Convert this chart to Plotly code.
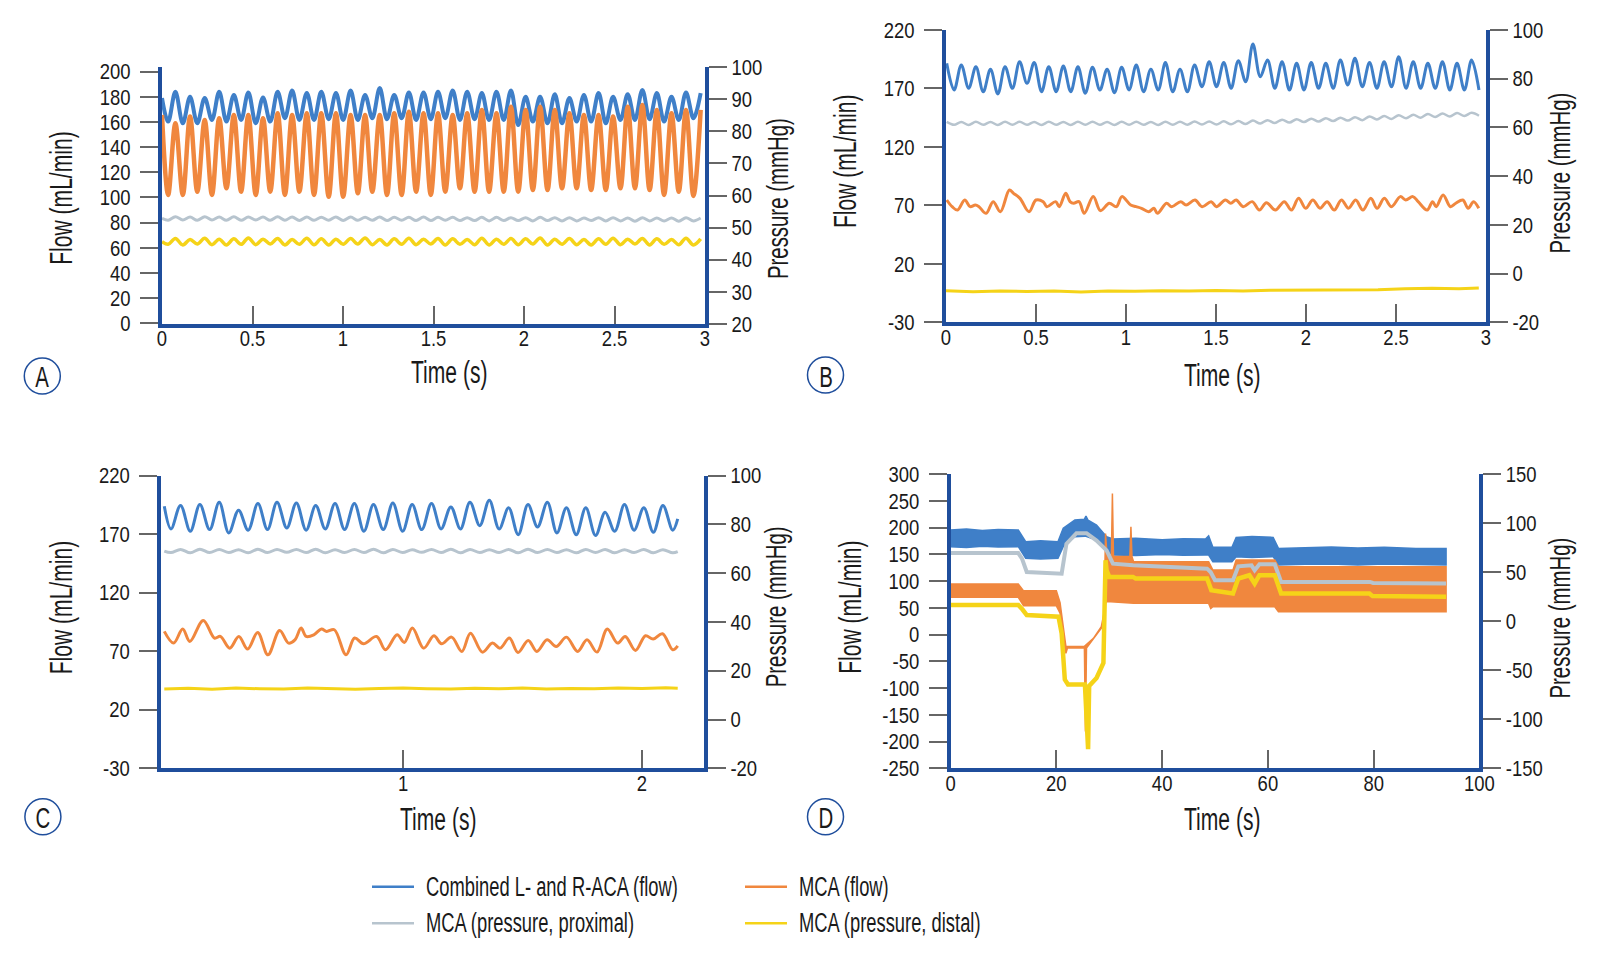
import plotly.graph_objects as go

W, H = 1598, 954
FONT = "Liberation Sans, Arial, Helvetica, sans-serif"
AX = "#1f4e9c"
BLUE, ORANGE, GRAY, YELLOW = "#3f7fc8", "#f0873e", "#b7c4ce", "#f5d318"

# ---------------- Panel A (flow mL/min, pressure mmHg, time s) ----------------
A_t = [0.0, 0.034, 0.074, 0.115, 0.155, 0.195, 0.236, 0.276, 0.316, 0.356, 0.397,
       0.437, 0.477, 0.518, 0.558, 0.598, 0.639, 0.679, 0.719, 0.759, 0.800,
       0.840, 0.880, 0.921, 0.961, 1.001, 1.042, 1.082, 1.122, 1.162, 1.203,
       1.243, 1.283, 1.324, 1.364, 1.404, 1.445, 1.485, 1.525, 1.565, 1.606,
       1.646, 1.686, 1.727, 1.767, 1.807, 1.848, 1.888, 1.928, 1.968, 2.009,
       2.049, 2.089, 2.130, 2.170, 2.210, 2.251, 2.291, 2.331, 2.371, 2.412,
       2.452, 2.492, 2.533, 2.573, 2.613, 2.654, 2.694, 2.734, 2.774, 2.815,
       2.855, 2.895, 2.936, 2.976]
A_blue_start = 179.0
A_blue_troughs = [160.3, 159.0, 159.0, 161.6, 160.3, 161.6, 159.0, 160.3, 163.0, 161.6, 161.6, 162.2, 161.6,
                  161.6, 163.0, 162.2, 163.0, 161.6, 162.2, 163.0, 161.6, 162.2, 161.6, 161.6, 157.6, 160.3,
                  159.0, 159.0, 160.3, 160.3, 159.0, 161.6, 161.6, 162.2, 160.3, 161.6, 163.0]
A_blue_peaks = [184, 180, 179, 184, 181.5, 183.5, 179.5, 184, 185, 183, 184, 183, 185, 181.5, 187, 181.5,
                183.5, 183.5, 184, 185, 184, 183, 184, 185, 180, 180, 182, 179, 181.5, 183, 180, 182,
                185.5, 183, 180, 183.5, 183]
A_orange_start = 165.6
A_orange_troughs = [102.0, 102.0, 104.6, 102.0, 107.3, 104.6, 102.0, 104.6, 102.0, 104.6, 102.0, 100.6, 100.6,
                    103.3, 104.6, 102.0, 102.0, 104.6, 102.0, 104.6, 107.3, 104.6, 104.6, 104.6, 104.6, 105.9,
                    105.9, 107.3, 107.3, 105.9, 105.9, 107.3, 107.3, 105.9, 102.0, 104.6, 101.2]
A_orange_peaks = [159.0, 164.3, 161.6, 163.0, 165.6, 165.6, 163.0, 166.9, 165.6, 166.9, 166.9, 166.9, 165.6,
                  165.6, 165.6, 166.9, 168.2, 166.9, 166.9, 165.6, 166.9, 169.6, 166.9, 172.2, 169.6, 172.2,
                  169.6, 166.9, 165.6, 165.6, 164.3, 172.2, 173.5, 169.6, 166.9, 169.6, 169.6]
A_gray_start = 52.9
A_gray_troughs = [52.3, 52.4, 52.3, 52.4, 52.3, 52.3, 52.4, 52.3, 52.3, 52.2, 52.3, 52.3, 52.2, 52.3, 52.3,
                  52.2, 52.3, 52.2, 52.2, 52.3, 52.2, 52.2, 52.1, 52.2, 52.2, 52.1, 52.2, 52.1, 52.1, 52.2,
                  52.1, 52.1, 52.0, 52.1, 52.1, 52.0, 52.1]
A_gray_peaks = [53.4, 53.3, 53.4, 53.3, 53.4, 53.3, 53.3, 53.4, 53.3, 53.3, 53.2, 53.3, 53.3, 53.2, 53.3,
                53.2, 53.2, 53.3, 53.2, 53.2, 53.1, 53.2, 53.2, 53.1, 53.1, 53.2, 53.1, 53.1, 53.0, 53.1,
                53.1, 53.0, 53.1, 53.0, 53.0, 53.1, 53.0]
A_yellow_start = 45.6
A_yellow_troughs = [44.8, 44.6, 44.9, 44.7, 44.6, 44.8, 44.7, 44.9, 44.6, 44.8, 44.7, 44.6, 44.8, 44.9, 44.7,
                    44.6, 44.8, 44.7, 44.9, 44.6, 44.8, 44.7, 44.6, 44.8, 44.7, 44.9, 44.6, 44.8, 44.7, 44.6,
                    44.8, 44.7, 44.9, 44.6, 44.8, 44.7, 44.6]
A_yellow_peaks = [46.6, 46.3, 46.7, 46.4, 46.5, 46.8, 46.4, 46.6, 46.3, 46.7, 46.5, 46.4, 46.6, 46.8, 46.3,
                  46.5, 46.7, 46.4, 46.6, 46.5, 46.3, 46.7, 46.4, 46.6, 46.5, 46.8, 46.4, 46.6, 46.3, 46.5,
                  46.7, 46.4, 46.6, 46.5, 46.3, 46.7, 46.5]

# ---------------- Panel B ----------------
B_t = [0.004, 0.045, 0.085, 0.126, 0.166, 0.207, 0.247, 0.288, 0.328, 0.369,
       0.409, 0.450, 0.490, 0.531, 0.571, 0.612, 0.652, 0.693, 0.733, 0.774,
       0.814, 0.855, 0.895, 0.936, 0.976, 1.017, 1.057, 1.098, 1.138, 1.179,
       1.219, 1.260, 1.300, 1.341, 1.381, 1.422, 1.462, 1.503, 1.543, 1.584,
       1.624, 1.665, 1.705, 1.746, 1.786, 1.827, 1.867, 1.908, 1.948, 1.989,
       2.029, 2.070, 2.110, 2.151, 2.191, 2.232, 2.272, 2.313, 2.353, 2.394,
       2.434, 2.475, 2.515, 2.556, 2.596, 2.637, 2.677, 2.718, 2.758, 2.799,
       2.839, 2.880, 2.920, 2.961]
B_blue_peaks = [191.5, 190.1, 188.6, 186.4, 188.6, 192.9, 192.1, 188.6, 189.2, 188.6, 188.1, 186.4, 188.1,
                190.1, 186.4, 192.1, 186.4, 190.1, 192.9, 192.1, 193.7, 208.0, 194.3, 192.9, 191.5, 192.1,
                191.5, 194.3, 195.8, 192.1, 192.9, 197.2, 192.9, 191.5, 192.9, 191.5, 194.3]
B_blue_troughs = [168.7, 170.1, 167.2, 165.3, 170.1, 174.4, 167.2, 167.2, 167.2, 165.9, 168.7, 166.4, 168.7,
                  167.2, 168.7, 167.2, 167.2, 171.5, 171.5, 170.1, 175.8, 180.0, 170.1, 168.7, 168.7, 170.1,
                  170.1, 173.0, 171.5, 170.1, 171.5, 170.1, 170.1, 170.1, 168.7, 168.7, 168.7]
B_gray_peaks = [62.3, 62.2, 62.3, 62.2, 62.3, 62.3, 62.2, 62.3, 62.2, 62.3, 62.3, 62.2, 62.3, 62.3, 62.2,
                62.3, 62.3, 62.4, 62.4, 62.5, 62.6, 62.8, 63.0, 63.2, 63.4, 63.6, 63.8, 64.0, 64.2, 64.5,
                64.7, 65.0, 65.2, 65.5, 65.7, 65.9, 66.0]
B_gray_troughs = [61.1, 61.0, 61.1, 61.0, 61.1, 61.1, 61.0, 61.1, 61.0, 61.1, 61.1, 61.0, 61.1, 61.1, 61.0,
                  61.1, 61.1, 61.2, 61.2, 61.3, 61.4, 61.6, 61.8, 62.0, 62.2, 62.4, 62.6, 62.8, 63.0, 63.3,
                  63.5, 63.8, 64.0, 64.3, 64.5, 64.7, 64.8]
B_orange_t = [0.004, 0.034, 0.064, 0.104, 0.134, 0.163, 0.183, 0.223, 0.262, 0.302, 0.352, 0.375, 0.411,
              0.461, 0.500, 0.540, 0.560, 0.609, 0.629, 0.665, 0.689, 0.709, 0.739, 0.768, 0.818, 0.858,
              0.907, 0.947, 0.977, 1.026, 1.056, 1.086, 1.126, 1.155, 1.175, 1.225, 1.254, 1.304, 1.334,
              1.383, 1.423, 1.473, 1.502, 1.552, 1.582, 1.612, 1.651, 1.701, 1.741, 1.780, 1.830, 1.879,
              1.919, 1.959, 1.998, 2.038, 2.078, 2.117, 2.157, 2.197, 2.236, 2.276, 2.316, 2.360, 2.395,
              2.435, 2.475, 2.524, 2.554, 2.594, 2.623, 2.673, 2.703, 2.723, 2.762, 2.802, 2.832, 2.871,
              2.901, 2.931, 2.960]
B_orange = [74.6, 68.9, 66.0, 74.6, 68.9, 70.3, 68.9, 63.2, 73.2, 64.6, 83.2, 80.3, 76.0,
            64.6, 74.6, 73.2, 68.9, 73.2, 68.9, 80.3, 73.2, 71.8, 73.2, 63.2, 77.5, 65.5,
            71.8, 68.9, 77.5, 70.3, 68.9, 67.5, 64.6, 67.5, 63.2, 71.8, 68.9, 73.2, 70.3,
            74.6, 68.9, 73.2, 68.9, 74.6, 71.8, 74.6, 68.9, 73.2, 66.0, 72.3, 66.0, 73.2,
            66.0, 76.0, 67.5, 74.6, 67.5, 73.2, 66.0, 74.6, 67.5, 74.6, 66.0, 76.0, 67.5,
            76.0, 68.9, 77.5, 74.6, 77.5, 73.2, 66.0, 73.2, 68.9, 78.9, 68.9, 71.8, 74.6,
            67.5, 73.2, 67.5]
B_yellow_t = [0.0, 0.15, 0.3, 0.45, 0.6, 0.75, 0.9, 1.05, 1.2, 1.35, 1.5, 1.65, 1.8, 1.95, 2.1, 2.25,
              2.4, 2.55, 2.7, 2.85, 2.96]
B_yellow = [-7.0, -7.5, -7.1, -7.4, -7.2, -7.6, -7.1, -7.3, -7.0, -7.2, -6.9, -7.1, -6.8, -6.7, -6.9,
            -6.5, -6.6, -6.2, -6.0, -6.2, -5.9]

# ---------------- Panel C ----------------
C_t = [0.028, 0.068, 0.109, 0.149, 0.190, 0.230, 0.270, 0.311, 0.351, 0.392,
       0.432, 0.472, 0.513, 0.553, 0.594, 0.634, 0.674, 0.715, 0.755, 0.796,
       0.836, 0.876, 0.917, 0.957, 0.998, 1.038, 1.078, 1.119, 1.159, 1.200,
       1.240, 1.280, 1.321, 1.361, 1.402, 1.442, 1.482, 1.523, 1.563, 1.604,
       1.644, 1.684, 1.725, 1.765, 1.806, 1.846, 1.886, 1.927, 1.967, 2.008,
       2.048, 2.088, 2.129]
C_t_start, C_t_end = 0.0, 2.15
C_blue_start, C_blue_end = 193.8, 182.9
C_blue_troughs = [174.4, 172.4, 173.8, 171.0, 173.3, 173.8, 175.2, 173.3, 174.4, 173.8, 172.4, 173.8, 172.4,
                  173.8, 174.4, 174.4, 177.2, 174.4, 169.5, 176.1, 171.0, 169.5, 168.7, 172.4, 173.3, 171.5,
                  173.3]
C_blue_peaks = [194.4, 195.2, 197.2, 190.4, 196.1, 197.2, 196.6, 194.4, 196.1, 196.1, 195.2, 196.6, 195.2,
                196.1, 193.2, 197.2, 198.9, 192.4, 195.2, 197.2, 192.4, 192.4, 188.6, 195.2, 192.4, 194.4]
C_gray_start, C_gray_end = 69.0, 68.8
C_gray_troughs = [68.4, 68.3, 68.4, 68.4, 68.3, 68.4, 68.5, 68.4, 68.3, 68.4, 68.4, 68.3, 68.4, 68.5,
                  68.4, 68.3, 68.4, 68.4, 68.3, 68.4, 68.4, 68.3, 68.4, 68.3, 68.4, 68.3, 68.3]
C_gray_peaks = [69.7, 69.8, 69.7, 69.6, 69.8, 69.7, 69.7, 69.8, 69.6, 69.7, 69.8, 69.7, 69.6, 69.7,
                69.8, 69.7, 69.6, 69.7, 69.8, 69.7, 69.6, 69.7, 69.7, 69.6, 69.7, 69.6]
C_orange_t = [0.0, 0.039, 0.077, 0.107, 0.163, 0.210, 0.235, 0.274, 0.312, 0.349, 0.391, 0.434, 0.483,
              0.520, 0.547, 0.573, 0.594, 0.626, 0.658, 0.680, 0.712, 0.761, 0.797, 0.834, 0.889, 0.926,
              0.975, 1.005, 1.039, 1.086, 1.129, 1.161, 1.203, 1.246, 1.282, 1.332, 1.374, 1.406, 1.445,
              1.481, 1.524, 1.560, 1.603, 1.641, 1.684, 1.731, 1.770, 1.812, 1.855, 1.898, 1.930, 1.973,
              2.015, 2.047, 2.086, 2.129, 2.150]
C_orange = [86.9, 76.9, 88.9, 78.3, 96.3, 81.2, 82.6, 72.6, 82.6, 71.8, 86.0, 66.9, 87.7,
            76.9, 79.7, 89.7, 82.6, 84.0, 88.9, 86.9, 88.3, 66.9, 81.2, 76.3, 82.6, 71.2,
            84.0, 77.5, 89.7, 72.6, 83.2, 76.3, 82.0, 69.8, 85.4, 69.2, 76.9, 72.6, 81.2,
            68.9, 79.2, 69.8, 79.7, 74.0, 82.0, 69.8, 79.7, 69.2, 88.9, 76.9, 82.6, 70.6,
            83.2, 80.3, 84.9, 71.2, 74.6]
C_yellow_t = [0.0, 0.1, 0.2, 0.3, 0.4, 0.5, 0.6, 0.7, 0.8, 0.9, 1.0, 1.1, 1.2, 1.3, 1.4, 1.5, 1.6,
              1.7, 1.8, 1.9, 2.0, 2.1, 2.15]
C_yellow = [12.5, 12.8, 12.4, 12.9, 12.6, 12.5, 12.9, 12.6, 12.4, 12.7, 12.9, 12.6, 12.5, 12.8,
            12.6, 12.9, 12.5, 12.7, 12.6, 12.9, 12.7, 13.0, 12.8]

# ---------------- Panel D (bands: upper / lower envelopes) ----------------
D_blue_t = [0, 3, 6, 9, 12.8, 14.2, 17, 20.3, 21.3, 23.5, 25.3, 25.6, 26.0, 27.6, 29.5, 30.7, 35, 40, 44,
            48.2, 48.8, 49.6, 53.2, 54.0, 57, 61.0, 62.0, 67, 72.0, 77, 82, 88, 93.7]
D_blue_top = [195.7, 197.5, 195.0, 196.8, 195.7, 173.9, 175.5, 173.9, 198.9, 214.5, 216.0, 221.9, 214.0,
              205.1, 183.3, 178.9, 180.5, 177.5, 179.5, 178.9, 185.0, 163.3, 163.3, 182.0, 183.5, 182.0,
              161.4, 163.0, 164.0, 162.0, 163.5, 161.0, 161.4]
D_blue_bot = [164.6, 163.0, 165.5, 163.8, 164.6, 142.7, 141.5, 142.7, 164.6, 183.3, 184.0, 184.0, 183.0,
              177.0, 155.2, 149.0, 148.0, 150.0, 148.5, 149.0, 149.0, 136.5, 136.5, 145.9, 144.5, 145.9,
              130.3, 131.5, 132.0, 130.5, 132.0, 131.0, 130.3]
D_orange_top_t = [0, 12.8, 13.8, 20.0, 20.7, 21.3, 21.8, 25.3, 27.0, 28.5, 29.0, 29.3, 29.6, 30.4, 30.6,
                  30.8, 33.9, 34.1, 34.3, 34.6, 48.8, 49.6, 53.4, 54.0, 61.3, 62.0, 93.7]
D_orange_top = [95, 95, 82, 82, 60, 10, -22, -22, -7, 15, 40, 189, 146, 146, 264,
                146, 146, 202, 146, 136.5, 136.5, 121, 121, 139.6, 139.6, 127.2, 127.2]
D_orange_bot_t = [0, 12.8, 13.8, 20.0, 20.7, 21.3, 21.8, 22.1, 25.3, 25.5, 25.7, 27.0, 28.5, 29.0, 29.3,
                  29.6, 34.6, 48.8, 49.2, 49.6, 61.3, 62.0, 93.7]
D_orange_bot = [70, 70, 54, 54, 40, -10, -35, -25, -25, -181, -25, -9, 12, 35, 60,
                62, 58.6, 58.6, 49, 52.3, 52.3, 43, 43]
D_gray_t = [0, 12.8, 13.5, 14.4, 21.0, 21.9, 23.8, 25.7, 27.6, 29.5, 30.7, 34.5, 48.5, 49.2, 50.0, 53.4,
            54.4, 56.9, 57.5, 58.4, 61.3, 62.5, 79.3, 79.9, 93.7]
D_gray = [69.6, 69.6, 64.0, 50.3, 48.6, 79.0, 89.9, 89.9, 82.4, 72.3, 58.8, 57.1, 53.7, 50.0, 41.9, 41.9,
          56.1, 57.1, 52.0, 58.1, 58.1, 40.2, 40.2, 39.2, 38.5]
D_yellow_t = [0, 12.8, 13.6, 14.4, 20.4, 21.0, 21.6, 22.2, 25.4, 25.8, 26.0, 26.2, 27.6, 28.9, 29.2,
              29.3, 29.5, 30.0, 34.5, 35.0, 48.5, 49.3, 53.4, 54.4, 56.5, 57.5, 58.4, 61.3, 62.5, 79.2,
              79.8, 93.7]
D_yellow = [16.6, 16.6, 12.0, 6.4, 4.7, -12.2, -59.5, -64.5, -64.5, -100, -130.4, -66, -57.8, -42.6, 20,
            62.2, 52, 45.3, 45.3, 43.6, 43.6, 31.8, 28.4, 43.6, 47, 38.5, 47, 47, 28.4, 28.4,
            25.7, 25.0]

SERIES_NAMES = ["Combined L- and R-ACA (flow)", "MCA (flow)",
                "MCA (pressure, proximal)", "MCA (pressure, distal)"]

# tick values
A_time_ticks = [0, 0.5, 1, 1.5, 2, 2.5, 3]
A_flow_ticks = [0, 20, 40, 60, 80, 100, 120, 140, 160, 180, 200]
A_press_ticks = [20, 30, 40, 50, 60, 70, 80, 90, 100]
BC_flow_ticks = [-30, 20, 70, 120, 170, 220]
BC_press_ticks = [-20, 0, 20, 40, 60, 80, 100]
C_time_ticks = [1, 2]
D_time_ticks = [0, 20, 40, 60, 80, 100]
D_flow_ticks = [-250, -200, -150, -100, -50, 0, 50, 100, 150, 200, 250, 300]
D_press_ticks = [-150, -100, -50, 0, 50, 100, 150]


def interleave(a, b):
    out = []
    for i in range(max(len(a), len(b))):
        if i < len(a):
            out.append(a[i])
        if i < len(b):
            out.append(b[i])
    return out


fig = go.Figure()


def line(x, y, xa, ya, color, width, shape="spline"):
    fig.add_trace(go.Scatter(x=x, y=y, xaxis=xa, yaxis=ya, mode="lines",
                             line=dict(color=color, width=width, shape=shape),
                             showlegend=False, hoverinfo="skip"))


def band(t_up, up, t_lo, lo, xa, ya, color):
    fig.add_trace(go.Scatter(x=list(t_up) + list(t_lo)[::-1], y=list(up) + list(lo)[::-1],
                             xaxis=xa, yaxis=ya, mode="lines", fill="toself", fillcolor=color,
                             line=dict(color=color, width=1.5), showlegend=False, hoverinfo="skip"))


# Panel A
v = [A_blue_start] + interleave(A_blue_troughs, A_blue_peaks)
line(A_t[:len(v)], v, "x", "y", BLUE, 4)
v = [A_orange_start] + interleave(A_orange_troughs, A_orange_peaks)
line(A_t[:len(v)], v, "x", "y", ORANGE, 4.5)
v = [A_gray_start] + interleave(A_gray_troughs, A_gray_peaks)
line(A_t[:len(v)], v, "x", "y2", GRAY, 3)
v = [A_yellow_start] + interleave(A_yellow_troughs, A_yellow_peaks)
line(A_t[:len(v)], v, "x", "y2", YELLOW, 3.5)

# Panel B
v = interleave(B_blue_peaks, B_blue_troughs)
line(B_t[:len(v)], v, "x2", "y3", BLUE, 3)
line(B_orange_t, B_orange, "x2", "y3", ORANGE, 3)
v = interleave(B_gray_peaks, B_gray_troughs)
line(B_t[:len(v)], v, "x2", "y4", GRAY, 2.5)
line(B_yellow_t, B_yellow, "x2", "y4", YELLOW, 3, "linear")

# Panel C
v = [C_blue_start] + interleave(C_blue_troughs, C_blue_peaks) + [C_blue_end]
line([C_t_start] + C_t + [C_t_end], v, "x3", "y5", BLUE, 3)
line(C_orange_t, C_orange, "x3", "y5", ORANGE, 3)
v = [C_gray_start] + interleave(C_gray_troughs, C_gray_peaks) + [C_gray_end]
line([C_t_start] + C_t + [C_t_end], v, "x3", "y6", GRAY, 3)
line(C_yellow_t, C_yellow, "x3", "y6", YELLOW, 3, "linear")

# Panel D
band(D_blue_t, D_blue_top, D_blue_t, D_blue_bot, "x4", "y7", BLUE)
band(D_orange_top_t, D_orange_top, D_orange_bot_t, D_orange_bot, "x4", "y7", ORANGE)
line(D_gray_t, D_gray, "x4", "y8", GRAY, 4, "linear")
line(D_yellow_t, D_yellow, "x4", "y8", YELLOW, 4.5, "linear")


def px_x(a, b):
    return [a / W, b / W]


def px_y(top, bottom):
    return [1 - bottom / H, 1 - top / H]


TICKFONT = dict(family=FONT, size=22, color="#1a1a1a")


def labels(vals):
    return [str(t) for t in vals]


def xaxis(dom, rng, tickvals, ya):
    return dict(domain=dom, range=rng, tickvals=tickvals, ticktext=labels(tickvals), anchor=ya,
                ticks="inside", ticklen=18, tickwidth=1.5, tickcolor="#666", showline=True,
                linecolor=AX, linewidth=4, showgrid=False, zeroline=False, tickfont=TICKFONT,
                fixedrange=True, automargin=False, ticklabelstandoff=-8)


def yaxis(dom, rng, tickvals, xa, side="left", overlay=None):
    d = dict(domain=dom, range=rng, tickvals=tickvals, ticktext=labels(tickvals), anchor=xa, side=side,
             ticks="outside", ticklen=18, tickwidth=1.5, tickcolor="#666", showline=True, linecolor=AX,
             linewidth=4, showgrid=False, zeroline=False, tickfont=TICKFONT, fixedrange=True,
             automargin=False, ticklabelstandoff=5 if side == "left" else 0)
    if overlay:
        d["overlaying"] = overlay
    return d


A_dx, A_dy = px_x(162, 705), px_y(67, 324)
B_dx, B_dy = px_x(946, 1486), px_y(30, 322.3)
C_dx, C_dy = px_x(161.2, 704), px_y(475.5, 768.3)
D_dx, D_dy = px_x(950.6, 1479.4), px_y(474.3, 768.3)

layout = dict(
    width=W, height=H, autosize=False,
    margin=dict(l=0, r=0, t=0, b=0, pad=0, autoexpand=False),
    paper_bgcolor="white", plot_bgcolor="rgba(0,0,0,0)", showlegend=False,
    font=dict(family=FONT, color="#1a1a1a"),
    xaxis=xaxis(A_dx, [0, 3], A_time_ticks, "y"),
    yaxis=yaxis(A_dy, [-0.56, 203.7], A_flow_ticks, "x"),
    yaxis2=yaxis(A_dy, [20, 100], A_press_ticks, "x", "right", "y"),
    xaxis2=xaxis(B_dx, [0, 3], A_time_ticks, "y3"),
    yaxis3=yaxis(B_dy, [-30, 220], BC_flow_ticks, "x2"),
    yaxis4=yaxis(B_dy, [-20, 100], BC_press_ticks, "x2", "right", "y3"),
    xaxis3=xaxis(C_dx, [-0.013, 2.26], C_time_ticks, "y5"),
    yaxis5=yaxis(C_dy, [-30, 220], BC_flow_ticks, "x3"),
    yaxis6=yaxis(C_dy, [-20, 100], BC_press_ticks, "x3", "right", "y5"),
    xaxis4=xaxis(D_dx, [0, 100], D_time_ticks, "y7"),
    yaxis7=yaxis(D_dy, [-250, 300], D_flow_ticks, "x4"),
    yaxis8=yaxis(D_dy, [-150, 150], D_press_ticks, "x4", "right", "y7"),
)
fig.update_layout(**layout)

annotations = []
shapes = []


def text(s, cx, cy, size, angle=0, xanchor="center"):
    annotations.append(dict(text=s, x=cx / W, y=1 - cy / H, xref="paper", yref="paper",
                            xanchor=xanchor, yanchor="middle", showarrow=False, textangle=angle,
                            align="left" if xanchor == "left" else "center", borderpad=0,
                            font=dict(family=FONT, size=size, color="#1a1a1a")))


# axis titles
for (fx, fy, px, py, tx, ty) in [(61.7, 198.5, 777, 199, 449.5, 372),
                                  (845.8, 161.7, 1559.5, 173, 1222, 375),
                                  (61.2, 607.5, 775.5, 606.7, 438.8, 819),
                                  (850.8, 607.5, 1559.5, 618, 1222, 819)]:
    text("Flow (mL/min)", fx, fy, 31, -90)
    text("Pressure (mmHg)", px, py, 30, -90)
    text("Time (s)", tx, ty, 31)

# panel letters in circles
for (lab, cx, cy) in [("A", 42.3, 376), ("B", 825.5, 375), ("C", 42.9, 816.7), ("D", 825.5, 816.7)]:
    r = 18
    shapes.append(dict(type="circle", xref="paper", yref="paper", x0=(cx - r) / W, x1=(cx + r) / W,
                       y0=1 - (cy + r) / H, y1=1 - (cy - r) / H, line=dict(color=AX, width=1.5)))
    text(lab, cx, cy + 1, 30)

# legend (manual, two columns)
leg = [(SERIES_NAMES[0], BLUE, 372, 886.7), (SERIES_NAMES[1], ORANGE, 745, 886.7),
       (SERIES_NAMES[2], GRAY, 372, 923.3), (SERIES_NAMES[3], YELLOW, 745, 923.3)]
for name, col, x0, y0 in leg:
    shapes.append(dict(type="line", xref="paper", yref="paper", x0=x0 / W, x1=(x0 + 42) / W,
                       y0=1 - y0 / H, y1=1 - y0 / H, line=dict(color=col, width=2.5)))
    text(name, x0 + 53, y0, 27, 0, "left")

fig.update_layout(annotations=annotations, shapes=shapes)

POST = """
document.body.style.margin='0';document.body.style.overflow='hidden';
function squeeze(sel, s){
  document.querySelectorAll(sel).forEach(function(el){
    var x = parseFloat(el.getAttribute('x')) || 0;
    var tr = el.getAttribute('transform') || '';
    el.setAttribute('transform', tr + ' translate(' + x + ',0) scale(' + s + ',1) translate(' + (-x) + ',0)');
  });
}
squeeze('g[class$="tick"] > text', 0.84);
squeeze('text.annotation-text', 0.68);
"""

fig.write_html("out.html", config={"displayModeBar": False}, post_script=POST)
